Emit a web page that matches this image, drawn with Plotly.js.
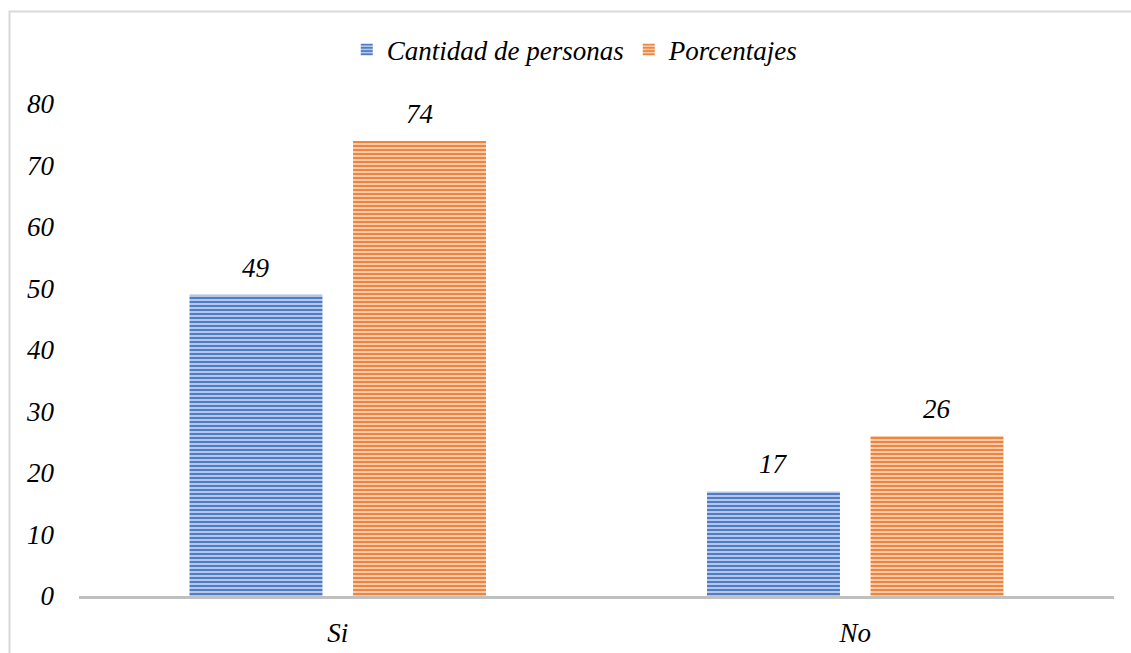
<!DOCTYPE html>
<html>
<head>
<meta charset="utf-8">
<script src="https://cdn.plot.ly/plotly-3.0.1.min.js"></script>
<style>
  html, body { margin: 0; padding: 0; background: #ffffff; }
  #chart { width: 1131px; height: 653px; }
</style>
</head>
<body>
<div id="chart"></div>
<script>
// Categories and series values
const categories = ['Si', 'No'];
const cantidadPersonas = [49, 17];
const porcentajes = [74, 26];
const seriesNames = ['Cantidad de personas', 'Porcentajes'];
const yTicks = [0, 10, 20, 30, 40, 50, 60, 70, 80];

const serif = 'Liberation Serif, Times New Roman, serif';
const textFont = { family: serif, size: 27, color: '#000000', style: 'italic' };

function barTrace(name, values, fg, bg) {
  return {
    type: 'bar',
    name: name,
    x: categories,
    y: values,
    marker: {
      color: bg,
      line: { width: 0 },
      pattern: { shape: '-', fgcolor: fg, bgcolor: bg, size: 4, solidity: 0.45 }
    },
    hoverinfo: 'none'
  };
}

const traces = [
  barTrace(seriesNames[0], cantidadPersonas, '#4472c4', '#b4c7e7'),
  barTrace(seriesNames[1], porcentajes, '#ed7d31', '#f8cbad')
];

// Value labels above each bar, offset to the bar's slot in the group
const slotShift = 81.75;
const annotations = [];
[cantidadPersonas, porcentajes].forEach((vals, s) => {
  vals.forEach((v, i) => {
    annotations.push({
      x: categories[i], y: v, xref: 'x', yref: 'y',
      text: String(v), showarrow: false,
      xanchor: 'center', yanchor: 'bottom',
      xshift: (s === 0 ? -1 : 1) * slotShift, yshift: 10,
      font: textFont
    });
  });
});

const W = 1035, H = 492, L = 79, T = 104;
const layout = {
  width: 1131, height: 653,
  font: { family: serif },
  margin: { l: L, r: 1131 - L - W, t: T, b: 653 - T - H },
  paper_bgcolor: '#ffffff', plot_bgcolor: '#ffffff',
  barmode: 'group', bargap: 0.368, bargroupgap: 0.187,
  showlegend: true,
  legend: {
    orientation: 'h', x: 0.479, xanchor: 'center', y: 1.11, yanchor: 'middle',
    font: textFont,
    itemwidth: 30, itemsizing: 'constant', traceorder: 'normal',
    bgcolor: 'rgba(0,0,0,0)'
  },
  xaxis: {
    type: 'category', showgrid: false, zeroline: false,
    showline: true, linecolor: '#c0c0c0', linewidth: 3,
    ticks: '', ticklabelstandoff: 11,
    tickfont: textFont
  },
  yaxis: {
    range: [0, 80], tickvals: yTicks, showgrid: false, zeroline: false,
    showline: false, ticks: '', ticklabelstandoff: 24,
    tickfont: textFont
  },
  annotations: annotations,
  shapes: [{
    type: 'rect', xref: 'paper', yref: 'paper', layer: 'below',
    x0: (9.5 - L) / W, x1: (1140 - L) / W,
    y0: (T + H - 700) / H, y1: (T + H - 11.5) / H,
    line: { color: '#d9d9d9', width: 2 }, fillcolor: 'rgba(0,0,0,0)'
  }]
};

Plotly.newPlot('chart', traces, layout, { displayModeBar: false, staticPlot: true });
</script>
</body>
</html>
